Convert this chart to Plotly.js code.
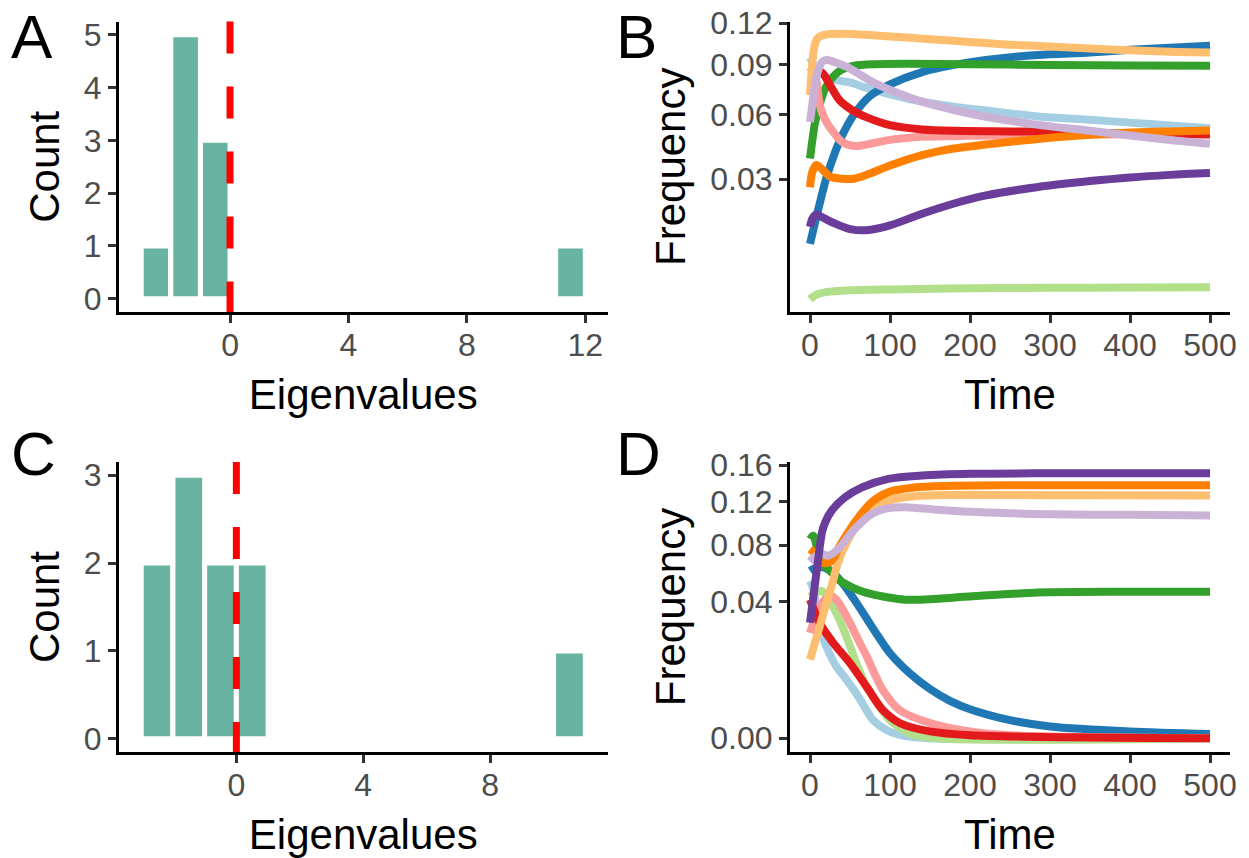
<!DOCTYPE html>
<html><head><meta charset="utf-8">
<script src="https://cdn.plot.ly/plotly-3.0.1.min.js"></script>
<style>html,body{margin:0;padding:0;background:#fff}#chart{width:1249px;height:858px}</style>
</head><body><div id="chart"></div>
<script>
// ---------- Panel A / C : eigenvalue histograms (bin width 1) ----------
const binCentersA = [-2.5, -1.5, -0.5, 11.5];
const countsA = [1, 5, 3, 1];
const binCentersC = [-2.5, -1.5, -0.5, 0.5, 10.5];
const countsC = [2, 3, 2, 2, 1];
const binWidth = 1;
const xTicksA = [0, 4, 8, 12];
const xTicksC = [0, 4, 8];
const yTicksA = [0, 1, 2, 3, 4, 5];
const yTicksC = [0, 1, 2, 3];

// ---------- Panel B / D : frequency over time (sqrt y scale) ----------
const timeTicks = [0, 100, 200, 300, 400, 500];
const freqTicksB = [0.03, 0.06, 0.09, 0.12];
const freqLabelsB = ['0.03', '0.06', '0.09', '0.12'];
const freqTicksD = [0, 0.04, 0.08, 0.12, 0.16];
const freqLabelsD = ['0.00', '0.04', '0.08', '0.12', '0.16'];
const speciesColors = ['#A6CEE3', '#1F78B4', '#B2DF8A', '#33A02C', '#FB9A99',
                       '#E31A1C', '#FDBF6F', '#FF7F00', '#CAB2D6', '#6A3D9A'];

// Panel B series
const tB1 = [0,5,10,20,35,50,70,100,140,180,220,285,350,400,450,500];
const fB1 = [0.095,0.090,0.087,0.0825,0.080,0.0787,0.0755,0.0715,0.0672,0.0644,0.0622,0.0590,0.0572,0.0557,0.0542,0.0528];
const tB2 = [0,5,10,20,30,40,55,75,100,140,180,220,285,350,400,450,500];
const fB2 = [0.0103,0.0145,0.0192,0.030,0.040,0.049,0.060,0.0705,0.0775,0.0853,0.0900,0.0934,0.0968,0.0985,0.1004,0.1018,0.1032];
const tB3 = [0,5,10,20,50,100,200,300,400,500];
const fB3 = [0.0016,0.0019,0.0021,0.0023,0.0025,0.0026,0.00272,0.00278,0.00282,0.00285];
const tB4 = [0,3,6,10,15,20,30,40,55,80,120,200,300,400,500];
const fB4 = [0.0385,0.047,0.055,0.062,0.070,0.076,0.083,0.087,0.0895,0.0905,0.0908,0.0905,0.0900,0.0897,0.0894];
const tB5 = [0,4,8,12,16,22,27,40,56,77,98,140,200,300,500];
const fB5 = [0.085,0.086,0.080,0.066,0.060,0.055,0.052,0.0461,0.0441,0.0453,0.0469,0.0485,0.049,0.0495,0.050];
const tB6 = [0,5,10,16,25,37,55,71,100,140,180,250,300,400,500];
const fB6 = [0.085,0.087,0.0865,0.0845,0.077,0.068,0.0618,0.0585,0.0544,0.0522,0.0515,0.0512,0.051,0.0502,0.0496];
const tB7 = [0,3,6,10,20,40,70,100,150,200,250,300,350,400,450,500];
const fB7 = [0.0711,0.092,0.104,0.109,0.1115,0.112,0.1112,0.110,0.108,0.106,0.104,0.1027,0.1012,0.1000,0.099,0.0985];
const tB8 = [0,3,8,15,25,40,55,75,100,140,180,220,285,350,400,450,500];
const fB8 = [0.027,0.033,0.0357,0.034,0.031,0.0302,0.0302,0.0322,0.0355,0.040,0.043,0.0448,0.0475,0.0495,0.0506,0.0512,0.0517];
const tB9 = [0,3,6,10,16,22,30,45,60,80,100,140,180,220,280,350,400,450,500];
const fB9 = [0.056,0.066,0.077,0.086,0.0925,0.0934,0.092,0.089,0.0845,0.0785,0.0741,0.0672,0.0625,0.0588,0.0548,0.0515,0.0492,0.047,0.0452];
const tB10 = [0,3,8,15,30,50,70,100,140,180,220,285,350,400,450,500];
const fB10 = [0.0145,0.0168,0.018,0.0172,0.0155,0.0139,0.0136,0.0149,0.0182,0.0214,0.0241,0.0271,0.0293,0.0307,0.0317,0.0324];

// Panel D series
const tD1 = [0,4,10,16,25,33,45,58,70,79,96,115,150,500];
const fD1 = [0.053,0.048,0.033,0.022,0.015,0.011,0.0075,0.0043,0.0018,0.0007,0.00014,0.00002,0,0];
const tD2 = [0,10,20,30,40,50,60,72,85,100,125,150,175,200,250,300,400,500];
const fD2 = [0.060,0.063,0.062,0.058,0.052,0.045,0.038,0.030,0.0224,0.0155,0.009,0.0052,0.003,0.0018,0.0007,0.0003,0.0001,0.00004];
const tD3 = [0,8,15,25,37,48,58,68,79,90,100,125,160,500];
const fD3 = [0.043,0.0455,0.0465,0.040,0.030,0.020,0.012,0.0068,0.0037,0.0017,0.0007,0.00005,0,0];
const tD4 = [0,4,10,15,27,35,56,77,98,119,140,181,285,400,500];
const fD4 = [0.085,0.088,0.075,0.0662,0.0589,0.0542,0.048,0.0445,0.0425,0.0412,0.0412,0.0425,0.0455,0.046,0.0461];
const tD5 = [0,8,16,27,35,50,60,71,81,91,112,150,200,250,500];
const fD5 = [0.0238,0.033,0.040,0.0434,0.040,0.0286,0.021,0.0143,0.0088,0.005,0.0017,0.0005,0.0001,0.00002,0];
const tD6 = [0,12,29,50,71,91,112,150,200,500];
const fD6 = [0.0412,0.0286,0.0195,0.0121,0.0056,0.0017,0.0005,0.0001,0.00002,0];
const tD7 = [0,10,20,28,35,48,65,85,100,130,170,250,350,500];
const fD7 = [0.0133,0.0241,0.0383,0.0517,0.0662,0.0851,0.1031,0.1161,0.1215,0.1255,0.1268,0.1268,0.1265,0.1263];
const tD8 = [0,5,10,15,23,30,35,45,56,77,98,130,170,250,500];
const fD8 = [0.0767,0.074,0.070,0.0665,0.066,0.070,0.0767,0.088,0.100,0.1195,0.1298,0.1348,0.1365,0.1372,0.1372];
const tD9 = [0,5,10,15,23,35,56,77,98,120,160,200,250,300,400,500];
const fD9 = [0.067,0.070,0.072,0.0727,0.0715,0.0767,0.094,0.1078,0.1135,0.1145,0.112,0.110,0.1085,0.1075,0.107,0.1063];
const tD10 = [0,5,10,15,19,27,44,65,98,140,200,300,500];
const fD10 = [0.0286,0.046,0.0675,0.091,0.100,0.111,0.1246,0.135,0.1443,0.148,0.150,0.1505,0.1505];

const seriesB = [[tB1,fB1],[tB2,fB2],[tB3,fB3],[tB4,fB4],[tB5,fB5],[tB6,fB6],[tB7,fB7],[tB8,fB8],[tB9,fB9],[tB10,fB10]];
const seriesD = [[tD1,fD1],[tD2,fD2],[tD3,fD3],[tD4,fD4],[tD5,fD5],[tD6,fD6],[tD7,fD7],[tD8,fD8],[tD9,fD9],[tD10,fD10]];

// ---------- build figure ----------
const W = 1249, H = 858;
const dx = (a, b) => [a / W, b / W];
const dy = (top, bottom) => [1 - bottom / H, 1 - top / H];
const FONT = 'Liberation Sans, Arial, sans-serif';

function axis(extra) {
  const base = {
    showline: true, linecolor: '#000000', linewidth: 3,
    ticks: 'outside', ticklen: 8, tickwidth: 3, tickcolor: '#333333',
    showgrid: false, zeroline: false, fixedrange: true,
    tickfont: {family: FONT, size: 32, color: '#4D4D4D'},
  };
  const out = Object.assign(base, extra);
  if (extra.titleText !== undefined) {
    out.title = {text: extra.titleText, font: {family: FONT, size: 42, color: '#000000'}, standoff: extra.standoff};
    delete out.titleText; delete out.standoff;
  }
  return out;
}

const traces = [];
const barStyle = {color: '#69b3a2', line: {color: '#ffffff', width: 5}};
traces.push({type: 'bar', x: binCentersA, y: countsA, width: binWidth, marker: barStyle,
             xaxis: 'x', yaxis: 'y', showlegend: false, hoverinfo: 'skip'});
traces.push({type: 'bar', x: binCentersC, y: countsC, width: binWidth, marker: barStyle,
             xaxis: 'x3', yaxis: 'y3', showlegend: false, hoverinfo: 'skip'});

function addLines(series, xa, ya) {
  series.forEach((s, i) => {
    traces.push({type: 'scatter', mode: 'lines', x: s[0], y: s[1].map(Math.sqrt),
      line: {color: speciesColors[i], width: 8, shape: 'spline', smoothing: 0.8},
      xaxis: xa, yaxis: ya, showlegend: false, hoverinfo: 'skip'});
  });
}
addLines(seriesB, 'x2', 'y2');
addLines(seriesD, 'x4', 'y4');

const XS = -5, XT = 18, YT = 12;
const layout = {
  width: W, height: H,
  margin: {l: 0, r: 0, t: 0, b: 0},
  paper_bgcolor: '#ffffff', plot_bgcolor: 'rgba(0,0,0,0)',
  showlegend: false, bargap: 0,
  font: {family: FONT},
  xaxis: axis({domain: dx(119, 607.5), range: [-3.75, 12.75], tickvals: xTicksA, anchor: 'y', ticklabelstandoff: XS, titleText: 'Eigenvalues', standoff: XT}),
  yaxis: axis({domain: dy(21.5, 312), range: [-0.25, 5.25], tickvals: yTicksA, anchor: 'x', titleText: 'Count', standoff: YT}),
  xaxis2: axis({domain: dx(790, 1230), range: [-25, 525], tickvals: timeTicks, anchor: 'y2', ticklabelstandoff: XS, titleText: 'Time', standoff: XT}),
  yaxis2: axis({domain: dy(21.5, 312), range: [0.0259, 0.3482], tickvals: freqTicksB.map(Math.sqrt), ticktext: freqLabelsB, anchor: 'x2', titleText: 'Frequency', standoff: YT}),
  xaxis3: axis({domain: dx(119, 607.5), range: [-3.7, 11.7], tickvals: xTicksC, anchor: 'y3', ticklabelstandoff: XS, titleText: 'Eigenvalues', standoff: XT}),
  yaxis3: axis({domain: dy(462, 752), range: [-0.15, 3.15], tickvals: yTicksC, anchor: 'x3', titleText: 'Count', standoff: YT}),
  xaxis4: axis({domain: dx(790, 1230), range: [-25, 525], tickvals: timeTicks, anchor: 'y4', ticklabelstandoff: XS, titleText: 'Time', standoff: XT}),
  yaxis4: axis({domain: dy(462, 752), range: [-0.0201, 0.4045], tickvals: freqTicksD.map(Math.sqrt), ticktext: freqLabelsD, anchor: 'x4', titleText: 'Frequency', standoff: YT}),
  shapes: [
    {type: 'line', xref: 'x', yref: 'y domain', x0: 0, x1: 0, y0: 1, y1: 0, layer: 'above',
     line: {color: '#FF0000', width: 7, dash: '32px,33px'}},
    {type: 'line', xref: 'x3', yref: 'y3 domain', x0: 0, x1: 0, y0: 1, y1: 0, layer: 'above',
     line: {color: '#FF0000', width: 7, dash: '32px,33px'}},
  ],
  annotations: [
    {text: 'A', x: 9 / W, y: 1 - 36 / H},
    {text: 'B', x: 614 / W, y: 1 - 36 / H},
    {text: 'C', x: 9 / W, y: 1 - 454 / H},
    {text: 'D', x: 614 / W, y: 1 - 454 / H},
  ].map(a => Object.assign({xref: 'paper', yref: 'paper', xanchor: 'left', yanchor: 'middle', showarrow: false,
                            font: {family: FONT, size: 62, color: '#000000'}}, a)),
};

Plotly.newPlot('chart', traces, layout, {staticPlot: true, displayModeBar: false});
</script></body></html>
